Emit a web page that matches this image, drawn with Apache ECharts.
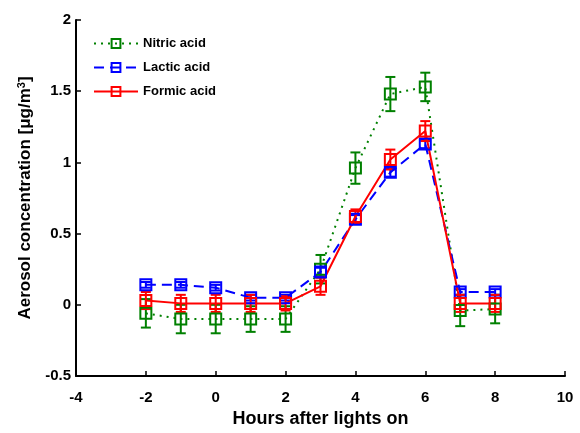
<!DOCTYPE html>
<html>
<head>
<meta charset="utf-8">
<script src="https://cdn.jsdelivr.net/npm/echarts@6/dist/echarts.min.js"></script>
<style>
  html, body { margin: 0; padding: 0; background: #fff; }
  #chart { width: 580px; height: 433px; }
</style>
</head>
<body>
<div id="chart"></div>
<script>
const hours = [-2, -1, 0, 1, 2, 3, 4, 5, 6, 7, 8];

const nitric = [-0.06, -0.1, -0.1, -0.1, -0.1, 0.25, 0.96, 1.48, 1.53, -0.04, -0.03];
const nitricErr = [0.1, 0.1, 0.1, 0.09, 0.09, 0.1, 0.11, 0.12, 0.1, 0.11, 0.1];

const lactic = [0.14, 0.14, 0.12, 0.05, 0.05, 0.23, 0.6, 0.93, 1.13, 0.09, 0.09];
const lacticErr = [0.02, 0.02, 0.02, 0.02, 0.02, 0.03, 0.03, 0.03, 0.03, 0.02, 0.02];

const formic = [0.03, 0.01, 0.01, 0.01, 0.01, 0.13, 0.62, 1.02, 1.22, 0.01, 0.01];
const formicErr = [0.06, 0.06, 0.06, 0.06, 0.05, 0.06, 0.05, 0.07, 0.07, 0.06, 0.06];

const myChart = echarts.init(document.getElementById("chart"));

const font = "Liberation Sans, Arial, sans-serif";

// error bars drawn as custom series: vertical line plus caps
const errorSeries = (name, vals, errs, color) => ({
  name: name + " err",
  type: "custom",
  data: hours.map((h, i) => [h, vals[i] - errs[i], vals[i] + errs[i]]),
  renderItem: (params, api) => {
    const lo = api.coord([api.value(0), api.value(1)]);
    const hi = api.coord([api.value(0), api.value(2)]);
    const w = 5;
    const style = { stroke: color, lineWidth: 2 };
    return {
      type: "group",
      children: [
        { type: "line", shape: { x1: lo[0], y1: lo[1], x2: hi[0], y2: hi[1] }, style },
        { type: "line", shape: { x1: lo[0] - w, y1: lo[1], x2: lo[0] + w, y2: lo[1] }, style },
        { type: "line", shape: { x1: hi[0] - w, y1: hi[1], x2: hi[0] + w, y2: hi[1] }, style },
      ],
    };
  },
  silent: true,
});

const lineSeries = (name, vals, color, type, width) => ({
  name,
  type: "line",
  data: hours.map((h, i) => [h, vals[i]]),
  symbol: "rect",
  symbolSize: 11,
  lineStyle: { color, type, width },
  itemStyle: { color: "rgba(0,0,0,0)", borderColor: color, borderWidth: 2 },
});

const option = {
  animation: false,
  grid: { left: 76, right: 15, top: 20, bottom: 55 },
  legend: {
    left: 88,
    top: 32,
    orient: "vertical",
    itemWidth: 44,
    itemHeight: 11,
    itemGap: 11,
    textStyle: { fontFamily: font, fontWeight: "bold", fontSize: 13, color: "#000" },
    data: [
      { name: "Nitric acid", itemStyle: { color: "rgba(0,0,0,0)", borderColor: "#008000" } },
      { name: "Lactic acid", itemStyle: { color: "rgba(0,0,0,0)", borderColor: "#0000ff" } },
      { name: "Formic acid", itemStyle: { color: "rgba(0,0,0,0)", borderColor: "#ff0000" } },
    ],
  },
  xAxis: {
    type: "value",
    min: -4,
    max: 10,
    interval: 2,
    name: "Hours after lights on",
    nameLocation: "middle",
    nameGap: 34,
    nameTextStyle: { fontFamily: font, fontWeight: "bold", fontSize: 18, color: "#000" },
    axisLine: { onZero: false, lineStyle: { color: "#000", width: 2 } },
    axisTick: { inside: true, length: 5, lineStyle: { color: "#000", width: 1.5 } },
    axisLabel: { fontFamily: font, fontWeight: "bold", fontSize: 15, color: "#000", margin: 14 },
    splitLine: { show: false },
  },
  yAxis: {
    type: "value",
    min: -0.5,
    max: 2,
    interval: 0.5,
    name: "{a|Aerosol concentration [μg/m}{s|3}{a|]}",
    nameLocation: "middle",
    nameGap: 36,
    nameTextStyle: {
      rich: {
        a: { fontFamily: font, fontWeight: "bold", fontSize: 17, color: "#000" },
        s: { fontFamily: font, fontWeight: "bold", fontSize: 11, color: "#000", verticalAlign: "top", padding: [0, 0, 8, 0] },
      },
    },
    axisLine: { show: true, onZero: false, lineStyle: { color: "#000", width: 2 } },
    axisTick: { show: true, inside: true, length: 5, lineStyle: { color: "#000", width: 1.5 } },
    axisLabel: { fontFamily: font, fontWeight: "bold", fontSize: 15, color: "#000", margin: 5 },
    splitLine: { show: false },
  },
  series: [
    errorSeries("Nitric acid", nitric, nitricErr, "#008000"),
    lineSeries("Nitric acid", nitric, "#008000", [2, 5], 2),
    errorSeries("Lactic acid", lactic, lacticErr, "#0000ff"),
    lineSeries("Lactic acid", lactic, "#0000ff", [10, 6], 2),
    errorSeries("Formic acid", formic, formicErr, "#ff0000"),
    lineSeries("Formic acid", formic, "#ff0000", "solid", 2),
  ],
};

myChart.setOption(option);
</script>
</body>
</html>
